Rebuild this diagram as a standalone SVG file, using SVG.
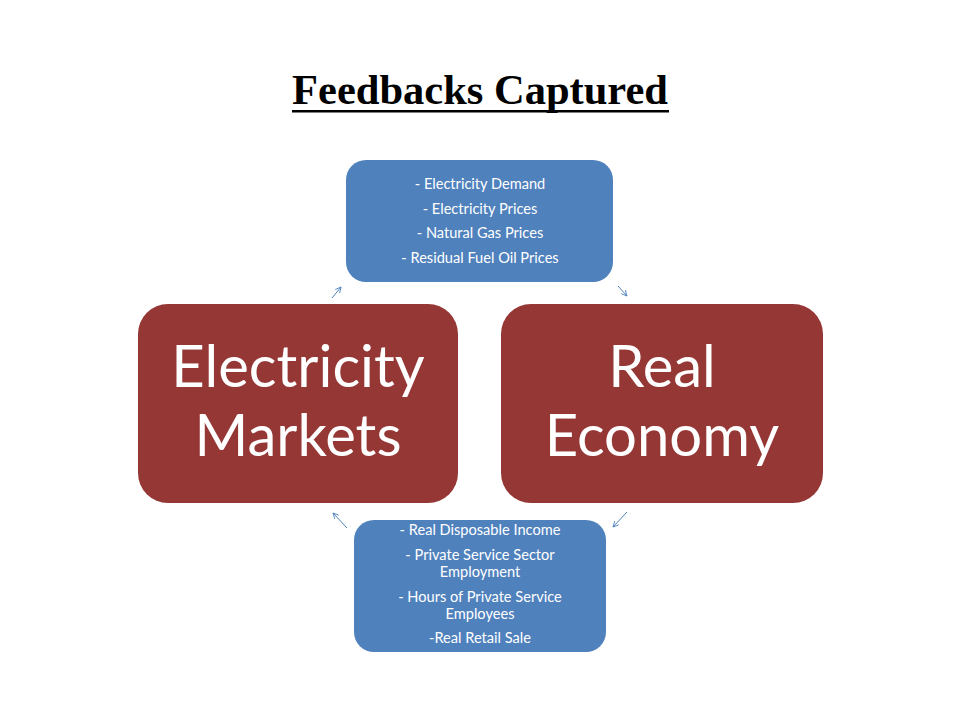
<svg xmlns="http://www.w3.org/2000/svg" width="960" height="720" viewBox="0 0 960 720">
<defs>
<marker id="ah" viewBox="0 0 10 10" refX="9" refY="5" markerWidth="7" markerHeight="7" orient="auto" markerUnits="userSpaceOnUse">
<path d="M1,1 L9,5 L1,9" fill="none" stroke="#4F81BD" stroke-width="1.2"/>
</marker>
<style>
.red{fill:#953735}
.blue{fill:#4F81BD}
.big{font-family:Lato,"Open Sans","DejaVu Sans",sans-serif;font-size:58px;fill:#fff;text-anchor:middle}
.sm{font-family:Lato,"Open Sans","DejaVu Sans",sans-serif;font-size:14.6px;fill:#fff;text-anchor:middle}
.conn{stroke:#4F81BD;stroke-width:1;fill:none;marker-end:url(#ah)}
</style>
</defs>
<rect width="960" height="720" fill="#fff"/>
<g id="title">
<text x="480" y="104" font-family="Liberation Serif,serif" font-weight="bold" font-size="42.5" text-anchor="middle" fill="#000">Feedbacks Captured</text>
<rect x="292" y="110" width="377" height="2.5" fill="#000"/>
</g>
<g id="top-box">
<rect class="blue" x="346" y="160" width="267" height="122" rx="20"/>
<text class="sm" x="480" y="189">- Electricity Demand</text>
<text class="sm" x="480" y="214">- Electricity Prices</text>
<text class="sm" x="480" y="238">- Natural Gas Prices</text>
<text class="sm" x="480" y="263">- Residual Fuel Oil Prices</text>
</g>
<g id="electricity-markets">
<rect class="red" x="138" y="304" width="320" height="199" rx="30"/>
<text class="big" x="298" y="387">Electricity</text>
<text class="big" x="298" y="456">Markets</text>
</g>
<g id="real-economy">
<rect class="red" x="501" y="304" width="322" height="199" rx="30"/>
<text class="big" x="662" y="387">Real</text>
<text class="big" x="662" y="456">Economy</text>
</g>
<g id="bottom-box">
<rect class="blue" x="354" y="520" width="252" height="132" rx="20"/>
<text class="sm" x="480" y="535">- Real Disposable Income</text>
<text class="sm" x="480" y="560">- Private Service Sector</text>
<text class="sm" x="480" y="577">Employment</text>
<text class="sm" x="480" y="602">- Hours of Private Service</text>
<text class="sm" x="480" y="619">Employees</text>
<text class="sm" x="480" y="643">-Real Retail Sale</text>
</g>
<g id="connectors">
<line class="conn" x1="332" y1="298" x2="341" y2="287"/>
<line class="conn" x1="618" y1="286" x2="627" y2="296"/>
<line class="conn" x1="627" y1="512" x2="613" y2="527"/>
<line class="conn" x1="347" y1="528" x2="333" y2="513"/>
</g>
</svg>
